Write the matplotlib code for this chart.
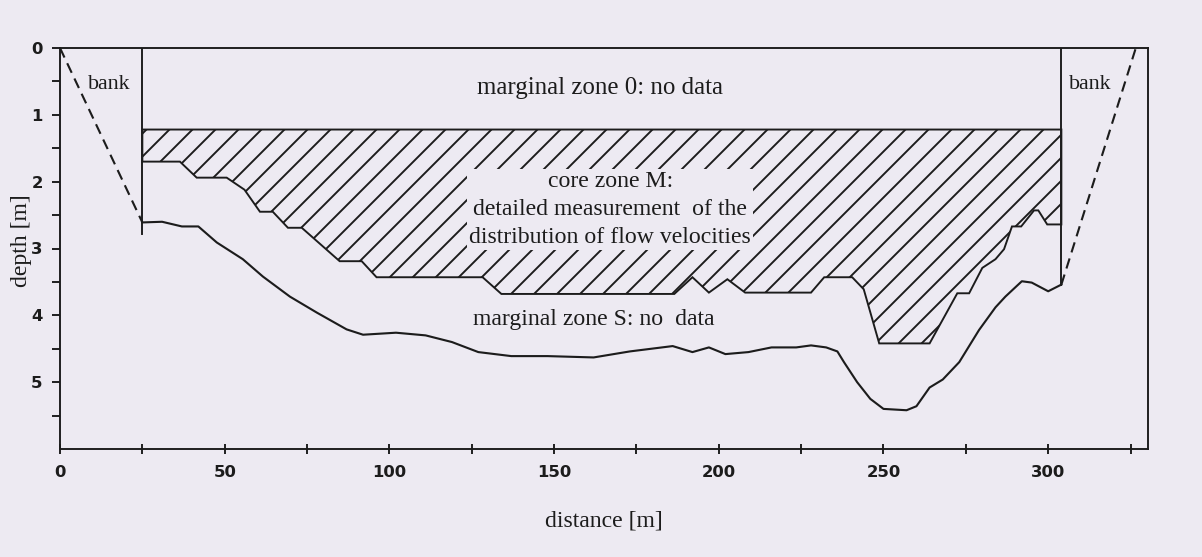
import matplotlib
matplotlib.use("Agg")
import matplotlib.pyplot as plt
import numpy as np

# -------------------------
# datos
# -------------------------
# límite inferior de la zona núcleo M (distancia [m], profundidad [m])
core_x = [25, 36.4, 41.5, 50.6, 56, 60.7, 64.6, 69.2, 73.4, 84.9, 91.6, 96.1,
          128.3, 134, 186.5, 192, 197, 202.6, 208, 228, 232, 240.5, 244, 248.7,
          264, 272.4, 276, 280, 284, 286.6, 289, 291.8, 295.7, 297, 299.7, 304]
core_bottom = [1.70, 1.70, 1.94, 1.94, 2.12, 2.45, 2.45, 2.69, 2.69, 3.19, 3.19, 3.43,
               3.43, 3.68, 3.68, 3.43, 3.66, 3.46, 3.66, 3.66, 3.43, 3.43, 3.61, 4.42,
               4.42, 3.67, 3.67, 3.29, 3.16, 3.01, 2.67, 2.67, 2.43, 2.43, 2.64, 2.64]
core_top = 1.22

# fondo del río
bed_x = [25, 31, 37, 42, 47.6, 55.5, 61.6, 69.8, 78, 87, 92, 102, 111, 119, 127,
         137, 148, 162, 173, 186, 192, 197, 202, 209, 216, 223.5, 228, 232.6, 236,
         238, 242, 246, 250, 257, 260, 264, 268, 273, 279, 284, 287, 292, 295, 300, 304]
bed_depth = [2.61, 2.60, 2.67, 2.67, 2.91, 3.16, 3.42, 3.72, 3.96, 4.21, 4.29, 4.26, 4.30, 4.40, 4.55,
             4.61, 4.61, 4.63, 4.54, 4.46, 4.55, 4.48, 4.58, 4.55, 4.48, 4.48, 4.45, 4.48, 4.54,
             4.70, 5.00, 5.25, 5.40, 5.42, 5.36, 5.08, 4.96, 4.70, 4.22, 3.88, 3.72, 3.49, 3.51, 3.64, 3.54]

# orillas (líneas discontinuas)
bank_left_x = [0, 25]
bank_left_d = [0, 2.61]
bank_right_x = [304, 326.6]
bank_right_d = [3.54, 0]

# límites verticales de la zona medida
left_edge_x, left_edge_bottom = 25, 2.79
right_edge_x, right_edge_bottom = 304, 3.54

x_ticks = [0, 50, 100, 150, 200, 250, 300]
y_ticks = [0, 1, 2, 3, 4, 5]

# -------------------------
# figura
# -------------------------
DPI = 138
BG = "#EDEAF2"
INK = "#1c1c1c"
plt.rcParams["hatch.linewidth"] = 1.0
plt.rcParams["hatch.color"] = INK
serif = ["Liberation Serif", "DejaVu Serif"]

fig = plt.figure(figsize=(1202 / DPI, 557 / DPI), dpi=DPI, facecolor=BG)
ax = fig.add_axes([60 / 1202, 1 - 449 / 557, (1148 - 60) / 1202, (449 - 48) / 557])
ax.set_facecolor(BG)

# zona núcleo M rayada
poly_x = [core_x[0]] + core_x + [core_x[-1]]
poly_y = [core_top] + core_bottom + [core_top]
ax.fill(poly_x, poly_y, facecolor="none", edgecolor=INK, hatch="//", linewidth=1.0)

# fondo del río
ax.plot(bed_x, bed_depth, color=INK, lw=1.1)

# líneas verticales
ax.plot([left_edge_x, left_edge_x], [0, left_edge_bottom], color=INK, lw=1.0)
ax.plot([right_edge_x, right_edge_x], [0, right_edge_bottom], color=INK, lw=1.0)

# orillas
ax.plot(bank_left_x, bank_left_d, color=INK, lw=1.1, ls=(0, (5, 3)))
ax.plot(bank_right_x, bank_right_d, color=INK, lw=1.1, ls=(0, (5, 3)))

# textos
ax.text(14.9, 0.55, "bank", family=serif, fontsize=11.5, ha="center", va="center", color=INK)
ax.text(312.7, 0.55, "bank", family=serif, fontsize=11.5, ha="center", va="center", color=INK)
ax.text(164, 0.6, "marginal zone 0: no data", family=serif, fontsize=13,
        ha="center", va="center", color=INK)
ax.text(167, 2.42, "core zone M:\ndetailed measurement  of the\ndistribution of flow velocities",
        family=serif, fontsize=12.4, ha="center", va="center", color=INK,
        linespacing=1.45, bbox=dict(facecolor=BG, edgecolor="none", pad=1))
ax.text(162, 4.06, "marginal zone S: no  data", family=serif, fontsize=12.4,
        ha="center", va="center", color=INK)

# ejes
ax.set_xlim(0, 330.3)
ax.set_ylim(6, 0)
ax.set_xticks(x_ticks)
ax.set_xticks(np.arange(25, 330, 50), minor=True)
ax.set_yticks(y_ticks)
ax.set_yticks(np.arange(0.5, 6, 1.0), minor=True)
ax.tick_params(axis="x", which="both", direction="inout", length=5, width=1.0,
               color=INK, pad=6)
ax.tick_params(axis="y", which="both", direction="out", length=4, width=1.0,
               color=INK, pad=5)
for lab in ax.get_xticklabels() + ax.get_yticklabels():
    lab.set_family("DejaVu Sans")
    lab.set_fontweight("bold")
    lab.set_fontsize(8.6)
    lab.set_color(INK)
for sp in ax.spines.values():
    sp.set_color(INK)
    sp.set_linewidth(1.0)

ax.set_xlabel("distance [m]", family=serif, fontsize=12.4, color=INK, labelpad=16)
ax.set_ylabel("depth [m]", family=serif, fontsize=12.4, color=INK)
ax.yaxis.set_label_coords(-0.026, 0.52)

fig.savefig("out.png", dpi=DPI, facecolor=BG)
